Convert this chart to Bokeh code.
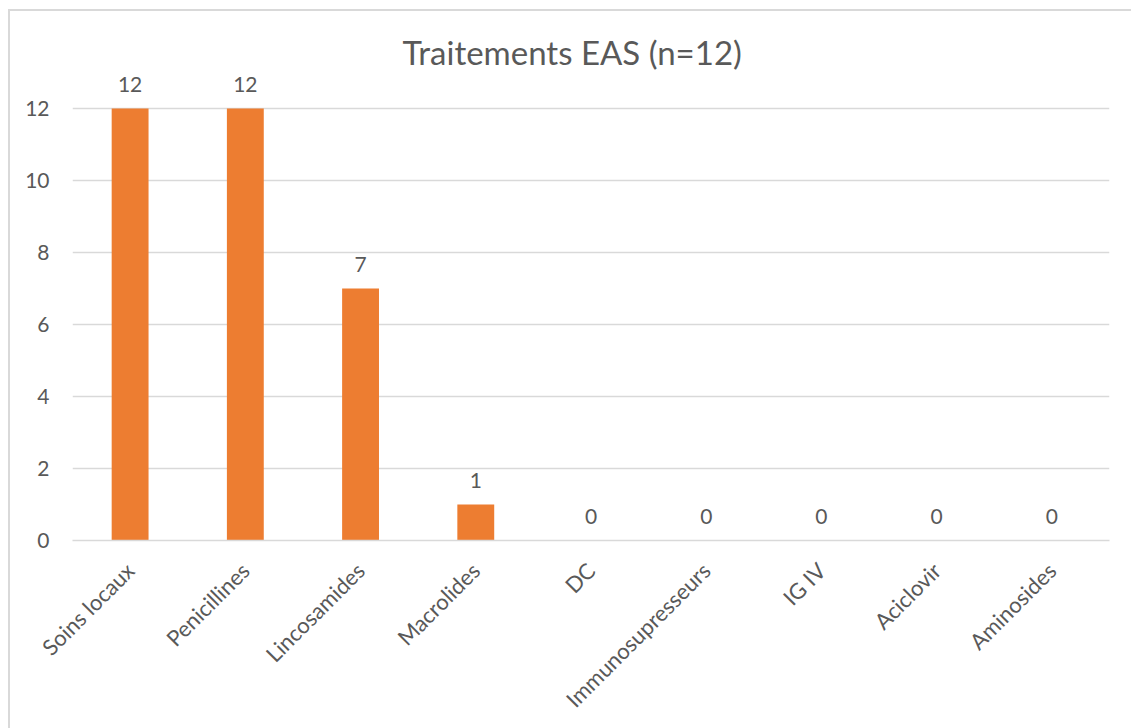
import math
from bokeh.plotting import figure
from bokeh.models import ColumnDataSource, LabelSet, Range1d, FixedTicker, Title
from bokeh.core.properties import value
from bokeh.embed import file_html
from bokeh.resources import INLINE

categories = ["Soins locaux", "Penicillines", "Lincosamides", "Macrolides", "DC",
              "Immunosupresseurs", "IG IV", "Aciclovir", "Aminosides"]
values = [12, 12, 7, 1, 0, 0, 0, 0, 0]
y_ticks = [0, 2, 4, 6, 8, 10, 12]
title_text = "Traitements EAS (n=12)"

FONT = "Lato"
TXT = "#595959"
GRID = "#d9d9d9"
BAR = "#ED7D31"

src = ColumnDataSource(dict(cat=categories, val=values, lab=[str(v) for v in values]))

p = figure(x_range=categories, y_range=Range1d(0, 13),
           width=1121, height=717, output_backend="svg", toolbar_location=None,
           min_border_left=62, min_border_right=22, min_border_top=61, min_border_bottom=188)
p.styles = {"position": "absolute", "left": "10px", "top": "11px",
            "outline": "2px solid #d9d9d9", "outline-offset": "0px"}

p.title = Title(text=title_text, align="left", text_font=FONT, text_font_size="33px",
                text_color=TXT, text_font_style="normal", standoff=2, offset=330)

p.vbar(x="cat", top="val", width=0.32, source=src, color=BAR, line_color=None)

labels = LabelSet(x="cat", y="val", text="lab", source=src, y_offset=17,
                  text_align="center", text_baseline="alphabetic",
                  text_font=value(FONT), text_font_size="21px", text_color=TXT)
p.add_layout(labels)

p.outline_line_color = None
p.xgrid.grid_line_color = None
p.ygrid.grid_line_color = GRID
p.ygrid.grid_line_width = 1.5
p.yaxis.ticker = FixedTicker(ticks=y_ticks)
p.yaxis.axis_line_color = None
p.yaxis.major_tick_line_color = None
p.yaxis.minor_tick_line_color = None
p.yaxis.major_label_text_font = FONT
p.yaxis.major_label_text_font_size = "21px"
p.yaxis.major_label_text_color = TXT
p.yaxis.major_label_standoff = 17

p.xaxis.axis_line_color = GRID
p.xaxis.axis_line_width = 1.5
p.xaxis.major_tick_line_color = None
p.xaxis.minor_tick_line_color = None
p.xaxis.major_label_orientation = math.pi / 4
p.xaxis.major_label_text_font = FONT
p.xaxis.major_label_text_font_size = "22px"
p.xaxis.major_label_text_color = TXT
p.xaxis.major_label_standoff = 20

p.background_fill_color = "white"
p.border_fill_color = "white"

open("out.html", "w").write(file_html(p, INLINE))
